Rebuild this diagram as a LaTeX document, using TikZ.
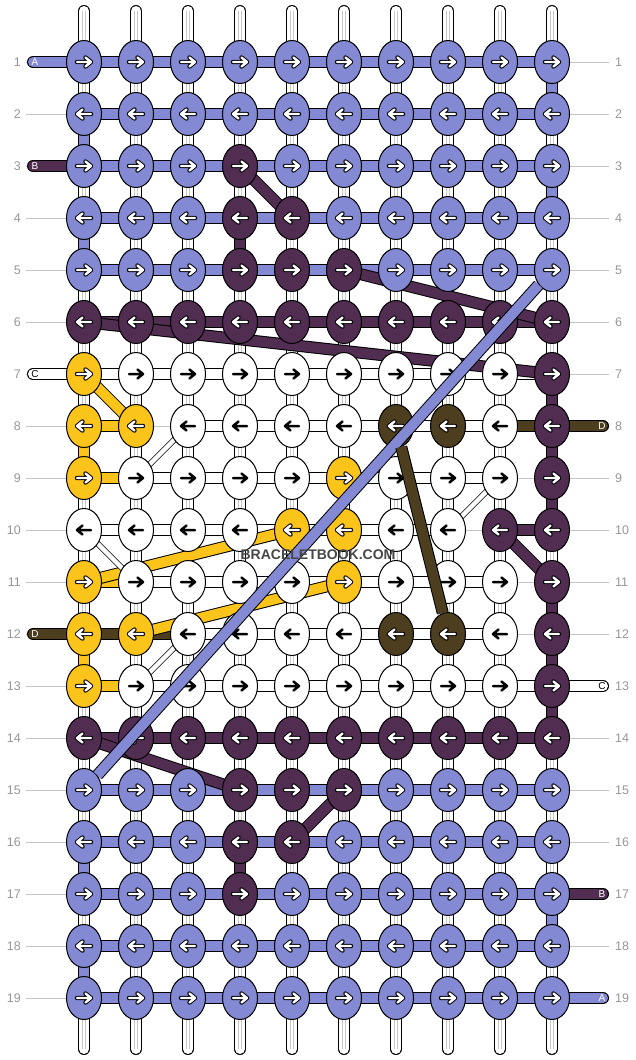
\documentclass[tikz,border=0pt]{standalone}
\usepackage{fontspec}
\setmainfont{Liberation Sans}
\usetikzlibrary{shapes.geometric}

\definecolor{kb}{RGB}{131,137,211}
\definecolor{kp}{RGB}{82,45,82}
\definecolor{ky}{RGB}{251,196,26}
\definecolor{ko}{RGB}{76,62,30}
\definecolor{kw}{RGB}{255,255,255}
\definecolor{rowgray}{RGB}{150,150,150}
\definecolor{guidegray}{RGB}{195,195,195}
\definecolor{warpgray}{RGB}{200,200,200}

\pgfdeclarelayer{back}
\pgfdeclarelayer{mid}
\pgfdeclarelayer{front}
\pgfsetlayers{back,mid,main,front}

% arrow in a knot: style, knot, direction (1 or -1)
\newcommand\knotarrow[3]{%
  \draw[#1] (#2.center) ++(-7*#3,0) -- ++(14*#3,0) ++(-5.5*#3,-4.5) -- ++(5.5*#3,4.5) -- ++(-5.5*#3,4.5);}

\begin{document}
\begin{tikzpicture}[x=1pt, y=-1pt,
    knot/.style={ellipse, draw, line width=1, minimum width=35, minimum height=43, inner sep=0, fill=#1},
    strand/.style={line width=1, double=#1, double distance=10},
    warp/.style={line width=1, double=white, double distance=10, line cap=round},
    warpline/.style={draw=warpgray, line width=0.8},
    thinpair/.style={line width=0.6, double=white, double distance=4.5},
    guide/.style={draw=guidegray, line width=1},
    rowno/.style={text=rowgray, inner sep=0, font=\fontsize{12.5}{12.5}\selectfont},
    tag/.style={inner sep=0, font=\fontsize{10}{10}\selectfont},
    arrowrim/.style={line width=4.4, black, line cap=round, line join=round},
    arrowlite/.style={line width=2.4, white, line cap=round, line join=round},
    arrowdark/.style={line width=2.5, black, line cap=round, line join=round}
  ]
  \useasboundingbox (0,0) rectangle (636,1060);

  % row guides and numbers, warp strings
  \begin{pgfonlayer}{back}
    \foreach \ro in {1,...,19} {
      \coordinate (gl-\ro) at (26,{62+52*(\ro-1)});
      \coordinate (gr-\ro) at (609,{62+52*(\ro-1)});
      \draw[guide] (gl-\ro) -- (gr-\ro);
      \node[rowno, anchor=east] (nl-\ro) at (21,{62+52*(\ro-1)}) {\ro};
      \node[rowno, anchor=west] (nr-\ro) at (615,{62+52*(\ro-1)}) {\ro};
    }
    \foreach \cl in {0,...,9} {
      \coordinate (wt-\cl) at ({84+52*\cl},11);
      \coordinate (wb-\cl) at ({84+52*\cl},1049);
      \draw[warp] (wt-\cl) -- (wb-\cl);
      \draw[warpline] ([xshift=-1.8]wt-\cl) -- ([xshift=-1.8]wb-\cl);
      \draw[warpline] ([xshift=1.8]wt-\cl) -- ([xshift=1.8]wb-\cl);
    }
  \end{pgfonlayer}

  % knots and weft bars, row by row
  \foreach \ro/\ks/\bs in {
      1/{b,b,b,b,b,b,b,b,b,b}/{b,b,b,b,b,b,b,b,b},
      2/{b,b,b,b,b,b,b,b,b,b}/{b,b,b,b,b,b,b,b,b},
      3/{b,b,b,p,b,b,b,b,b,b}/{b,b,b,b,b,b,b,b,b},
      4/{b,b,b,p,p,b,b,b,b,b}/{b,b,b,b,b,b,b,b,b},
      5/{b,b,b,p,p,p,b,b,b,b}/{b,b,b,b,b,b,b,b,b},
      6/{p,p,p,p,p,p,p,p,p,p}/{p,p,p,p,p,p,p,p,p},
      7/{y,w,w,w,w,w,w,w,w,p}/{w,w,w,w,w,w,w,w,w},
      8/{y,y,w,w,w,w,o,o,w,p}/{y,n,w,w,w,w,w,w,o},
      9/{y,w,w,w,w,y,w,w,w,p}/{y,w,w,w,w,w,w,w,n},
      10/{w,w,w,w,y,y,w,w,p,p}/{w,w,w,w,w,w,w,n,p},
      11/{y,w,w,w,w,y,w,w,w,p}/{y,w,w,w,w,w,w,w,n},
      12/{y,y,w,w,w,w,o,o,w,p}/{o,o,w,w,w,w,w,w,n},
      13/{y,w,w,w,w,w,w,w,w,p}/{y,w,w,w,w,w,w,w,w},
      14/{p,p,p,p,p,p,p,p,p,p}/{p,p,p,p,p,p,p,p,p},
      15/{b,b,b,p,p,p,b,b,b,b}/{b,b,b,b,b,b,b,b,b},
      16/{b,b,b,p,p,b,b,b,b,b}/{b,b,b,b,b,b,b,b,b},
      17/{b,b,b,p,b,b,b,b,b,b}/{b,b,b,b,b,b,b,b,b},
      18/{b,b,b,b,b,b,b,b,b,b}/{b,b,b,b,b,b,b,b,b},
      19/{b,b,b,b,b,b,b,b,b,b}/{b,b,b,b,b,b,b,b,b}} {
    \pgfmathtruncatemacro\d{1-2*mod(\ro+1,2)}
    \foreach \kc [count=\cl from 0] in \ks {
      \node[knot=k\kc] (k-\ro-\cl) at ({84+52*\cl},{62+52*(\ro-1)}) {};
      \if w\kc
        \knotarrow{arrowdark}{k-\ro-\cl}{\d}
      \else
        \knotarrow{arrowrim}{k-\ro-\cl}{\d}
        \knotarrow{arrowlite}{k-\ro-\cl}{\d}
      \fi
    }
    \begin{pgfonlayer}{back}
      \foreach \bc [count=\cl from 0] in \bs {
        \pgfmathtruncatemacro\cn{\cl+1}
        \if n\bc\else
          \draw[strand=k\bc] (k-\ro-\cl.center) -- (k-\ro-\cn.center);
        \fi
      }
    \end{pgfonlayer}
  }

  % turns at the edges and loose ends
  \begin{pgfonlayer}{back}
    \foreach \ro/\cl/\col in {2/0/kb, 4/0/kb, 8/0/ky, 12/0/ky, 16/0/kb, 18/0/kb,
        1/9/kb, 3/9/kb, 7/9/kp, 8/9/kp, 9/9/kp, 11/9/kp, 12/9/kp, 13/9/kp, 17/9/kb,
        4/3/kp, 16/3/kp} {
      \pgfmathtruncatemacro\rn{\ro+1}
      \draw[strand=\col] (k-\ro-\cl.center) -- (k-\rn-\cl.center);
    }
    \foreach \ro/\col/\txt/\tc in {1/kb/A/white, 3/kp/B/white, 7/kw/C/black, 12/ko/D/white} {
      \coordinate (sl-\ro) at (33,{62+52*(\ro-1)});
      \draw[strand=\col, line cap=round] (sl-\ro) -- (k-\ro-0.center);
      \node[tag, text=\tc] (tl-\ro) at (35,{62+52*(\ro-1)}) {\txt};
    }
    \foreach \ro/\col/\txt/\tc in {8/ko/D/white, 13/kw/C/black, 17/kp/B/white, 19/kb/A/white} {
      \coordinate (sr-\ro) at (603,{62+52*(\ro-1)});
      \draw[strand=\col, line cap=round] (sr-\ro) -- (k-\ro-9.center);
      \node[tag, text=\tc] (tr-\ro) at (602,{62+52*(\ro-1)}) {\txt};
    }
  \end{pgfonlayer}

  % strings moving between knots
  \begin{pgfonlayer}{mid}
    \draw[strand=kp] (k-3-3.center) -- (k-4-4.center);
    \draw[strand=kp] (k-5-5.center) -- (k-6-9.center);
    \draw[strand=kp] (k-6-0.center) -- (k-7-9.center);
    \draw[strand=kp] (k-10-8.center) -- (k-11-9.center);
    \draw[strand=kp] (k-14-0.center) -- (k-15-3.center);
    \draw[strand=kp] (k-16-4.center) -- (k-15-5.center);
    \draw[strand=ky] (k-7-0.center) -- (k-8-1.center);
    \draw[strand=ky] (k-11-0.center) -- (k-10-4.center);
    \draw[strand=ky] (k-12-1.center) -- (k-11-5.center);
    \draw[thinpair] (k-8-2.center) -- (k-9-1.center);
    \draw[thinpair] (k-10-0.center) -- (k-11-1.center);
    \draw[thinpair] (k-12-2.center) -- (k-13-1.center);
    \draw[thinpair] (k-9-8.center) -- (k-10-7.center);
  \end{pgfonlayer}

  \begin{pgfonlayer}{front}
    \draw[strand=kb] (k-5-9) -- (k-15-0);
    \draw[strand=ko] (k-8-6) -- (k-12-7);
    \node[text=black!72, inner sep=0, font=\bfseries\fontsize{14}{14}\selectfont] (mark) at (318,555) {BRACELETBOOK.COM};
  \end{pgfonlayer}
\end{tikzpicture}
\end{document}
